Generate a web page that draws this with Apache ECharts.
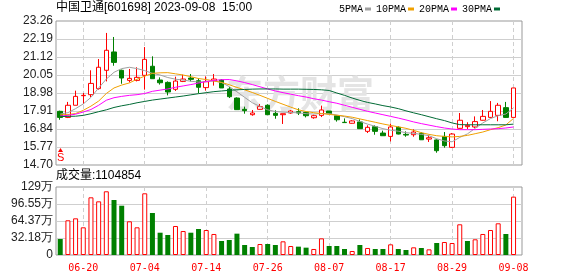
<!DOCTYPE html>
<html><head><meta charset="utf-8">
<script src="https://cdn.jsdelivr.net/npm/echarts@6/dist/echarts.min.js"></script>
<style>html,body{margin:0;padding:0;background:#fff}#c{width:578px;height:276px}</style>
</head><body><div id="c"></div>
<script>
const dates = ['06-15','06-16','06-19','06-20','06-21','06-26','06-27','06-28','06-29','06-30',
'07-03','07-04','07-05','07-06','07-07','07-10','07-11','07-12','07-13','07-14',
'07-17','07-18','07-19','07-20','07-21','07-24','07-25','07-26','07-27','07-28',
'07-31','08-01','08-02','08-03','08-04','08-07','08-08','08-09','08-10','08-11',
'08-14','08-15','08-16','08-17','08-18','08-21','08-22','08-23','08-24','08-25',
'08-28','08-29','08-30','08-31','09-01','09-04','09-05','09-06','09-07','09-08'];
// [open, close, low, high]
const candles = [
[17.89,17.53,17.39,17.93],[17.53,18.25,17.49,18.45],[18.25,18.78,18.25,19.12],[18.82,18.84,18.33,18.98],[18.88,19.55,18.74,20.33],
[19.24,20.51,19.18,21.00],[20.33,21.52,19.67,22.55],[21.42,20.80,20.60,22.31],[20.33,19.87,19.53,20.37],[19.73,19.85,19.61,20.41],
[19.73,19.91,19.67,20.51],[20.03,20.98,19.18,21.71],[20.57,19.83,19.83,21.16],[19.75,19.59,19.48,19.91],[19.61,19.04,18.84,19.67],
[19.20,19.69,19.10,19.95],[19.67,19.81,19.63,20.07],[19.87,19.79,19.67,20.11],[19.71,19.32,18.96,19.85],[19.30,19.65,19.12,19.97],
[19.71,19.81,19.42,20.11],[19.75,19.28,19.28,19.79],[19.22,18.76,18.68,19.34],[18.68,17.99,17.97,18.72],[18.01,17.93,17.75,18.17],
[17.69,17.79,17.63,17.97],[18.01,18.17,17.99,18.33],[18.25,17.69,17.69,18.31],[17.77,17.65,17.45,17.95],[17.69,17.75,17.14,17.75],
[17.79,17.91,17.75,17.97],[17.87,17.79,17.67,18.07],[17.83,17.63,17.53,17.87],[17.51,17.63,17.45,17.69],[17.65,17.97,17.55,18.23],
[17.91,17.75,17.75,17.91],[17.63,17.39,17.28,17.67],[17.24,17.22,17.20,17.47],[17.18,17.32,17.16,17.36],[17.26,16.86,16.86,17.41],
[16.70,16.94,16.60,17.06],[16.98,16.70,16.50,17.06],[16.60,16.44,16.44,16.74],[16.40,16.96,16.10,17.16],[16.94,16.54,16.52,17.00],
[16.52,16.48,16.38,16.70],[16.50,16.66,16.38,16.82],[16.58,16.20,16.20,16.64],[16.24,16.32,16.07,16.48],[16.19,15.55,15.43,16.23],
[16.40,15.85,15.73,16.66],[15.75,16.54,15.71,16.60],[16.88,17.36,16.86,17.79],[16.98,17.06,16.84,17.24],[16.96,17.28,16.90,17.59],
[17.36,17.59,17.34,17.97],[17.53,17.89,17.49,18.50],[17.65,18.25,17.30,18.39],[18.11,17.53,17.51,18.45],[17.53,19.28,17.53,19.28]];
const ma5 = [17.73,17.81,18.05,18.33,18.72,19.28,19.81,20.21,20.43,20.51,20.43,20.31,20.15,20.05,19.90,19.80,19.75,19.68,19.63,19.66,
19.70,19.60,19.36,19.05,18.72,18.40,18.18,17.98,17.88,17.84,17.82,17.80,17.75,17.73,17.76,17.75,17.67,17.57,17.46,17.29,
17.13,17.00,16.86,16.77,16.71,16.62,16.58,16.52,16.44,16.26,16.13,16.08,16.34,16.55,16.88,17.20,17.46,17.63,17.73,18.10];
const ma10 = [17.68,17.70,17.76,17.95,18.20,18.50,18.95,19.28,19.45,19.58,19.80,19.98,20.15,20.18,20.19,20.12,20.05,19.95,19.84,19.78,
19.70,19.61,19.47,19.31,19.17,19.01,18.84,18.66,18.48,18.31,18.14,17.98,17.88,17.81,17.76,17.71,17.66,17.61,17.54,17.44,
17.34,17.24,17.14,17.05,16.97,16.88,16.76,16.62,16.52,16.44,16.40,16.37,16.40,16.46,16.56,16.66,16.80,16.92,17.08,17.47];
const ma20 = [17.61,17.65,17.72,17.85,18.00,18.25,18.55,18.70,18.78,18.84,18.88,18.95,19.08,19.15,19.22,19.32,19.40,19.48,19.57,19.66,
19.73,19.77,19.78,19.70,19.60,19.48,19.35,19.22,19.10,19.00,18.91,18.82,18.74,18.64,18.56,18.46,18.37,18.25,18.13,18.01,
17.89,17.79,17.69,17.59,17.49,17.38,17.26,17.16,17.07,16.98,16.90,16.84,16.80,16.80,16.80,16.82,16.84,16.86,16.90,16.96];
const ma30 = [17.58,17.59,17.60,17.65,17.75,17.87,17.98,18.12,18.22,18.30,18.40,18.48,18.56,18.62,18.68,18.74,18.80,18.87,18.94,19.00,
19.06,19.10,19.14,19.17,19.19,19.21,19.22,19.22,19.22,19.21,19.21,19.21,19.20,19.19,19.17,19.13,18.98,18.84,18.68,18.54,
18.42,18.33,18.23,18.15,18.05,17.92,17.80,17.69,17.57,17.45,17.34,17.20,17.10,17.09,17.09,17.09,17.09,17.09,17.09,17.13];
const volumes = [303000,657000,694000,524000,1092000,1016000,1206000,1041000,933000,638000,
524000,1168000,795000,422000,379000,549000,454000,422000,492000,473000,
398000,265000,284000,404000,189000,151000,208000,208000,189000,259000,
170000,158000,139000,114000,315000,170000,170000,114000,76000,189000,
133000,114000,114000,202000,114000,95000,145000,133000,107000,227000,
246000,227000,581000,265000,297000,398000,473000,600000,398000,1104854];
const volUp = [0,1,1,1,1,1,1,0,0,1, 1,1,0,0,0,1,1,0,0,1, 1,0,0,0,0,0,1,0,0,1,
1,0,0,1,1,0,0,0,1,0, 1,0,0,1,0,0,1,0,1,0, 1,1,1,0,1,1,1,1,0,1];
const priceTicks = [14.70,15.77,16.84,17.91,18.98,20.05,21.12,22.19,23.26];
const volTickVals = [0,321825,643650,965475,1287300];
const volTickLabels = ['0','32.18万','64.37万','96.55万','129万'];
const xTickIdx = [3,11,19,27,35,43,51,59];
const maNames = ['5PMA','10PMA','20PMA','30PMA'];

const RED='#ff0000', GREEN='#008000';
const labelFont = {fontFamily:'Liberation Sans, Arial, sans-serif', fontSize:12, color:'#222'};
const xMin=-0.55, xMax=60.1;
const dashed = {show:true, lineStyle:{color:'#cfcfcf', type:[4,3], width:1}};
const solid = {show:true, lineStyle:{color:'#cfcfcf', width:1}};

function xAxisDef(gi, showLabel){
  return {type:'value', gridIndex:gi, min:xMin, max:xMax,
    axisLine:{show:false}, axisTick:{show:false, customValues:xTickIdx},
    axisLabel:{show:showLabel, customValues:xTickIdx, formatter:v=>dates[Math.round(v)]||'',
      color:RED, fontFamily:'DejaVu Sans Mono, monospace', fontSize:10, margin:8},
    splitLine:dashed};
}
const chart = echarts.init(document.getElementById('c'), null, {renderer:'canvas'});
const maColors = ['#a0a0a0','#f0a000','#ff00ff','#006a35'];
const maData = [ma5,ma10,ma20,ma30];
const option = {
  animation:false,
  title:{text:'中国卫通[601698] 2023-09-08  15:00', left:56, top:2, padding:0,
    textStyle:{fontFamily:'Liberation Sans, Noto Sans CJK SC, sans-serif', fontSize:12, fontWeight:'normal', color:'#000'}},
  legend:{data:maNames, left:339, top:4, padding:0, icon:'rect', align:'right', itemWidth:6, itemHeight:3, itemGap:5,
    textStyle:{fontFamily:'Liberation Mono, monospace', fontSize:10, color:'#000', padding:[0,-3,0,0]}},
  grid:[
    {left:56, top:21, width:466, height:144, show:true, borderColor:'#999', borderWidth:1, backgroundColor:'transparent'},
    {left:56, top:187, width:466, height:68, show:true, borderColor:'#999', borderWidth:1, backgroundColor:'transparent'}
  ],
  xAxis:[xAxisDef(0,false), xAxisDef(1,true)],
  yAxis:[
    {type:'value', gridIndex:0, min:14.70, max:23.26, axisLine:{show:false},
     axisTick:{show:false, customValues:priceTicks.slice(1,-1)},
     axisLabel:Object.assign({customValues:priceTicks, formatter:v=>v.toFixed(2), margin:3}, labelFont),
     splitLine:solid},
    {type:'value', gridIndex:1, min:0, max:1287300, axisLine:{show:false},
     axisTick:{show:false, customValues:volTickVals.slice(1,-1)},
     axisLabel:Object.assign({customValues:volTickVals,
       formatter:v=>volTickLabels[volTickVals.indexOf(v)] ?? '', margin:3}, labelFont),
     splitLine:solid}
  ],
  graphic:[
    {type:'text', left:226, top:75, z:1, silent:true,
     style:{text:'东方财富', font:'bold 37px "Noto Sans CJK SC", sans-serif', fill:'#e4e4e4'}},
    {type:'text', left:56, top:170, style:{text:'成交量:'+volumes[volumes.length-1], font:'12px "Liberation Sans", "Noto Sans CJK SC", sans-serif', fill:'#000'}},
    {type:'polygon', shape:{points:[[60.5,148],[58,152],[63,152]]}, style:{fill:RED}},
    {type:'text', left:57, top:152, style:{text:'S', font:'11px "Liberation Sans", sans-serif', fill:RED}}
  ],
  series:[
    {type:'candlestick', xAxisIndex:0, yAxisIndex:0, barWidth:5, z:3,
     data:candles.map((d,i)=>[i,d[0],d[1],d[2],d[3]]),
     encode:{x:0, y:[1,2,3,4]},
     itemStyle:{color:'#ffffff', color0:GREEN, borderColor:RED, borderColor0:GREEN, borderColorDoji:RED, borderWidth:1}},
    ...maNames.map((n,k)=>({name:n, type:'line', xAxisIndex:0, yAxisIndex:0, showSymbol:false, symbol:'none', z:4,
      color:maColors[k], lineStyle:{width:1, color:maColors[k]},
      data:maData[k].map((v,i)=>[i,v])})),
    {type:'bar', xAxisIndex:1, yAxisIndex:1, barWidth:5, z:3,
     data:volumes.map((v,i)=>({value:[i,v], itemStyle: volUp[i] ? {color:'#ffffff', borderColor:RED, borderWidth:1} : {color:GREEN, borderColor:GREEN, borderWidth:0}}))}
  ]
};
chart.setOption(option);
</script></body></html>
